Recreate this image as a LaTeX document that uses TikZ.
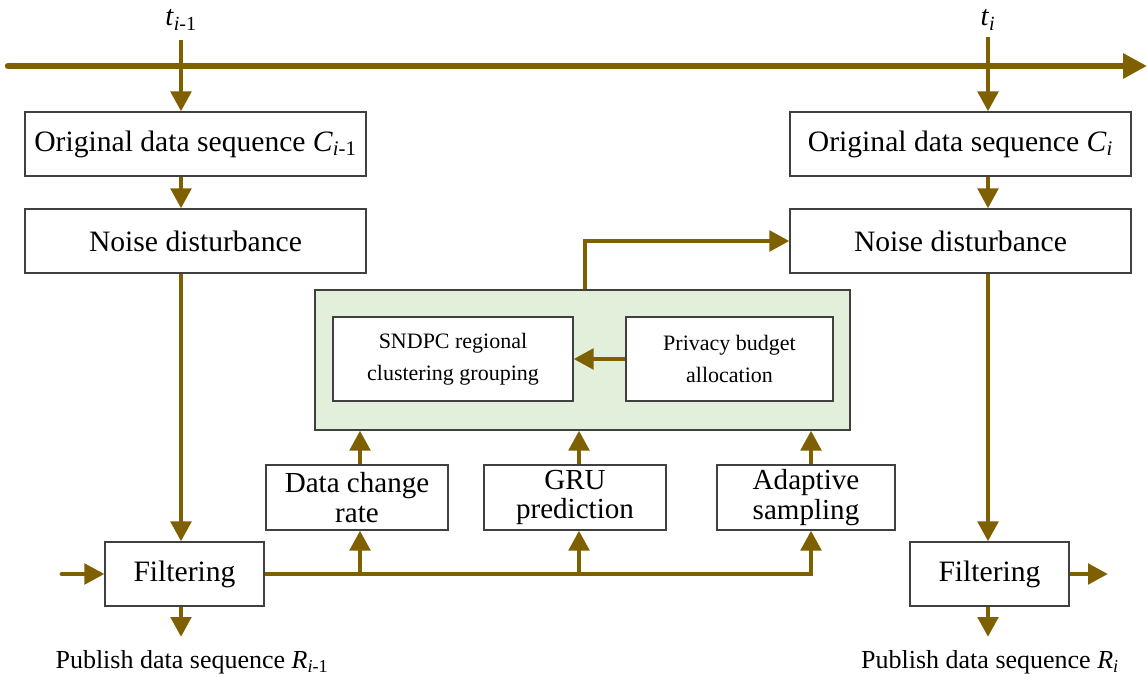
\documentclass[tikz,border=0pt]{standalone}
\usepackage{fontspec}
\setmainfont{Liberation Serif}
\usetikzlibrary{arrows.meta}
\definecolor{brn}{HTML}{7F6000}
\definecolor{gfill}{HTML}{E2EFDA}
\definecolor{bordr}{HTML}{404040}
\tikzset{
  box/.style={draw=bordr, line width=0.8pt, fill=white, inner sep=0pt, align=center,
    font=\fontsize{22.2}{24}\selectfont},
  twoline/.style={box, font=\fontsize{21.8}{22}\selectfont},
  smallbox/.style={box, font=\fontsize{16.5}{24}\selectfont},
  conn/.style={draw=brn, line width=3.7pt, -{Triangle[length=15pt,width=15pt]}},
  lbl/.style={inner sep=0pt, font=\fontsize{19.5}{22}\selectfont},
}
\begin{document}
\begin{tikzpicture}[x=0.75pt, y=-0.75pt]
\useasboundingbox (0,0) rectangle (1148,677);

% timeline
\coordinate (tl0) at (8,66);
\coordinate (tl1) at (1147,66);
\draw[draw=brn, line width=4.8pt, line cap=round, -{Triangle[length=18pt,width=18pt]}] (tl0) -- (tl1);

% labels t
\node[lbl, font=\fontsize{21.5}{23}\selectfont] (ta) at (181,20) {\textit{t}\textsubscript{\textit{i}-1}};
\node[lbl, font=\fontsize{21.5}{23}\selectfont] (tb) at (988,20) {\textit{t}\textsubscript{\textit{i}}};
\coordinate (ta0) at (181,40);
\coordinate (tb0) at (988,37);

% boxes
\node[box, minimum width=255.75pt, minimum height=48pt] (o1) at (195.5,144) {Original data sequence \textit{C}\textsubscript{\textit{i}-1}};
\node[box, minimum width=255.75pt, minimum height=48pt] (o2) at (960.5,144) {Original data sequence \textit{C}\textsubscript{\textit{i}}};
\node[box, minimum width=255.75pt, minimum height=48pt] (n1) at (195.5,241) {Noise disturbance};
\node[box, minimum width=255.75pt, minimum height=48pt] (n2) at (960.5,241) {Noise disturbance};

\node[box, minimum width=119.25pt, minimum height=48pt] (f1) at (184.5,574) {Filtering};
\node[box, minimum width=119.25pt, minimum height=48pt] (f2) at (989.5,574) {Filtering};

\node[draw=bordr, line width=0.8pt, fill=gfill, minimum width=401.25pt, minimum height=105pt, inner sep=0pt] (grn) at (582.5,360) {};
\node[smallbox, minimum width=180pt, minimum height=63pt] (snd) at (453,359) {SNDPC regional\\clustering grouping};
\node[smallbox, minimum width=155.25pt, minimum height=63pt] (pri) at (729.5,359) {Privacy budget\\allocation};

\node[twoline, minimum width=136.5pt, minimum height=48.75pt] (dcr) at (357,497.5) {Data change\\rate};
\node[twoline, minimum width=136.5pt, minimum height=48.75pt] (gru) at (575,497.5) {GRU\\prediction};
\node[twoline, minimum width=133.5pt, minimum height=48.75pt] (ada) at (806,497.5) {Adaptive\\sampling};

% publish labels
\node[lbl] (p1) at (192,662) {Publish data sequence \textit{R}\textsubscript{\textit{i}-1}};
\node[lbl] (p2) at (990,662) {Publish data sequence \textit{R}\textsubscript{\textit{i}}};

% free ends
\coordinate (in1) at (62,574);
\coordinate (out2) at (1108,574);
\coordinate (d1) at (181,637);
\coordinate (d2) at (988,637);

% connectors
\draw[conn] (ta0) -- (o1.north -| ta0);
\draw[conn] (tb0) -- (o2.north -| tb0);
\draw[conn] (o1.south -| ta0) -- (n1.north -| ta0);
\draw[conn] (o2.south -| tb0) -- (n2.north -| tb0);
\draw[conn] (n1.south -| ta0) -- (f1.north -| ta0);
\draw[conn] (n2.south -| tb0) -- (f2.north -| tb0);
\draw[conn] (f1.south -| ta0) -- (d1);
\draw[conn] (f2.south -| tb0) -- (d2);
\draw[conn, line cap=round] (in1) -- (f1.west);
\draw[conn] (f2.east) -- (out2);

\draw[conn] (f1.east) -| (ada.south -| 811,0);
\draw[conn] (f1.east -| 360,0) -- (dcr.south -| 360,0);
\draw[conn] (f1.east -| 579,0) -- (gru.south -| 579,0);

\draw[conn] (dcr.north -| 360,0) -- (grn.south -| 360,0);
\draw[conn] (gru.north -| 579,0) -- (grn.south -| 579,0);
\draw[conn] (ada.north -| 811,0) -- (grn.south -| 811,0);

\draw[conn] (pri.west) -- (snd.east);
\draw[conn] (grn.north -| 585,0) |- (n2.west);
\end{tikzpicture}
\end{document}
